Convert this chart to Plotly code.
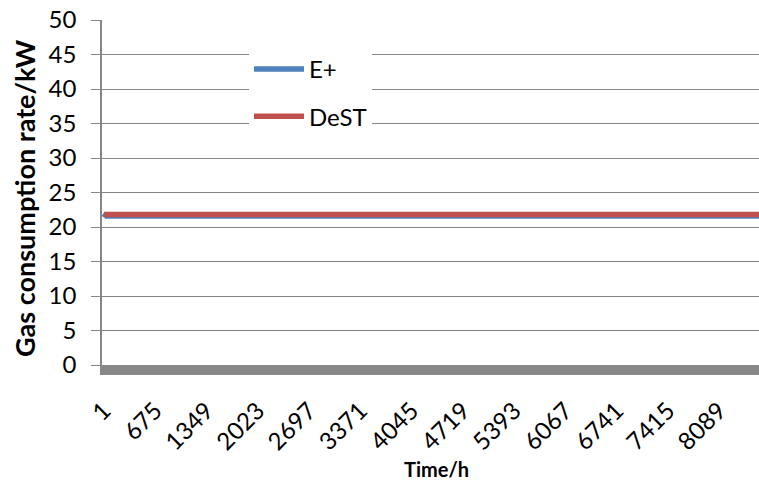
import plotly.graph_objects as go

# Data
hours = [1, 12, 8760]
eplus = [21.4, 21.6, 21.6]
dest = [21.8, 21.8, 21.8]
tick_hours = [1, 675, 1349, 2023, 2697, 3371, 4045, 4719, 5393, 6067, 6741, 7415, 8089]
tick_labels = [str(h) for h in tick_hours]
y_ticks = list(range(0, 51, 5))

FONT = "Lato"
GRID = "#868686"

fig = go.Figure()
fig.add_trace(go.Scatter(x=hours, y=eplus, mode="lines", name="E+",
                         line=dict(color="#4F81BD", width=5.5),
                         legendgroup="a"))
fig.add_trace(go.Scatter(x=hours, y=dest, mode="lines", name="DeST",
                         line=dict(color="#C0504D", width=5.5),
                         legendgroup="b"))

W, H = 759, 483
L, R, T, B = 102, 0, 20, 118
PW, PH = W - L - R, H - T - B


def px(xp):
    return (xp - L) / PW


def py(yp):
    return 1 - (yp - T) / PH


fig.update_layout(
    width=W, height=H,
    margin=dict(l=L, r=R, t=T, b=B),
    paper_bgcolor="white", plot_bgcolor="white",
    font=dict(family=FONT, color="black", size=24),
    showlegend=True,
    legend=dict(
        x=px(249), xanchor="left",
        y=py(47), yanchor="top",
        bgcolor="white", borderwidth=0,
        font=dict(family=FONT, size=24, color="black"),
        tracegroupgap=13, itemwidth=50,
    ),
    shapes=[
        dict(type="rect", xref="paper", yref="paper",
             x0=px(235), x1=px(388), y0=py(145), y1=py(38),
             fillcolor="white", line=dict(width=0), layer="between"),
    ],
    xaxis=dict(
        range=[-25, 8615],
        tickmode="array", tickvals=tick_hours, ticktext=tick_labels,
        tickangle=-45, ticks="", showgrid=False, zeroline=False,
        showline=True, linecolor="#878787", linewidth=10,
        ticklabelstandoff=12,
        tickfont=dict(family=FONT, size=24, color="black"),
    ),
    yaxis=dict(
        range=[0, 50], tickmode="array", tickvals=y_ticks,
        showgrid=True, gridcolor=GRID, gridwidth=1, zeroline=False,
        showline=True, linecolor=GRID, linewidth=1.5,
        ticks="outside", ticklen=9, tickcolor=GRID, tickwidth=1,
        ticklabelstandoff=10,
        tickfont=dict(family=FONT, size=24, color="black"),
    ),
    annotations=[
        dict(text="<b>Time/h</b>", xref="paper", yref="paper",
             x=px(436), y=py(469),
             xanchor="center", yanchor="middle", showarrow=False,
             font=dict(family=FONT, size=20, color="black")),
        dict(text="<b>Gas consumption rate/kW</b>", xref="paper", yref="paper",
             x=px(24), y=py(198),
             xanchor="center", yanchor="middle", textangle=-90, showarrow=False,
             font=dict(family=FONT, size=27, color="black")),
    ],
)

fig.write_html("out.html", config={"displayModeBar": False},
               post_script="document.body.style.margin='0';document.body.style.overflow='hidden';")
